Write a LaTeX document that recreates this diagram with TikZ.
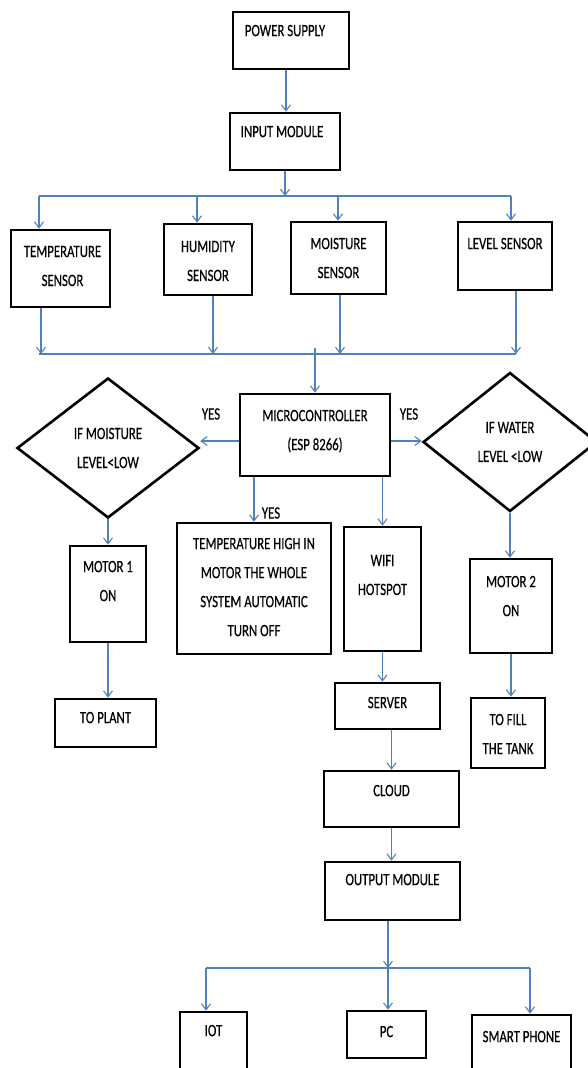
\documentclass[tikz,border=0pt]{standalone}
\usepackage{fontspec}
\setmainfont{Carlito}[FakeStretch=0.74, FakeBold=0.4]
\usepackage{xcolor}
\usepackage{tikz}
\usetikzlibrary{shapes.geometric, arrows.meta}
\definecolor{linkblue}{RGB}{79,129,189}

\begin{document}
\begin{tikzpicture}[
  x=1pt, y=-1pt,
  box/.style={draw, line width=2.6pt, inner sep=0pt},
  decision/.style={draw, diamond, line width=2.6pt, inner sep=0pt, align=center, font=\fontsize{17.3}{29}\selectfont},
  txt/.style={anchor=north, align=center, inner sep=0pt, font=\fontsize{17.3}{29}\selectfont},
  yes/.style={inner sep=0pt, font=\fontsize{17.3}{29}\selectfont},
  flow/.style={draw=linkblue, line width=1.1pt, -{Straight Barb[length=6pt, width=9pt]}},
  wire/.style={draw=linkblue, line width=1.1pt}
]
\path[use as bounding box, fill=white] (0,0) rectangle (588,1068);

\node[box, minimum width=116pt, minimum height=57pt] (power) at (291,40.5) {};
\node[box, minimum width=110pt, minimum height=57pt] (input) at (285,141.5) {};
\node[box, minimum width=99pt, minimum height=77pt] (temp) at (60.5,268.5) {};
\node[box, minimum width=88pt, minimum height=71pt] (humid) at (208,259.5) {};
\node[box, minimum width=95pt, minimum height=72pt] (moist) at (338.5,258) {};
\node[box, minimum width=94pt, minimum height=68pt] (level) at (505,256) {};
\node[box, minimum width=150pt, minimum height=82pt] (micro) at (315,435) {};
\node[decision, minimum width=182pt, minimum height=140pt] (ldia) at (108,448) {IF MOISTURE\\LEVEL<LOW};
\node[decision, minimum width=174pt, minimum height=139pt] (rdia) at (510,442) {IF WATER\\LEVEL <LOW};
\node[box, minimum width=154pt, minimum height=131pt] (hot) at (254,588.5) {};
\node[box, minimum width=77pt, minimum height=124pt] (wifi) at (382.5,589) {};
\node[box, minimum width=76pt, minimum height=96pt] (motor1) at (108,594) {};
\node[box, minimum width=101pt, minimum height=48pt] (plant) at (105.5,723) {};
\node[box, minimum width=82pt, minimum height=94pt] (motor2) at (511,606) {};
\node[box, minimum width=74pt, minimum height=70pt] (tank) at (508,733) {};
\node[box, minimum width=105pt, minimum height=46pt] (server) at (387.5,706) {};
\node[box, minimum width=135pt, minimum height=56pt] (cloud) at (391.5,799) {};
\node[box, minimum width=135pt, minimum height=58pt] (output) at (392.5,891) {};
\node[box, minimum width=67pt, minimum height=58pt] (iot) at (213.5,1041) {};
\node[box, minimum width=79pt, minimum height=47pt] (pc) at (386.5,1034.5) {};
\node[box, minimum width=99pt, minimum height=60pt] (phone) at (521.5,1045) {};

\node[txt] (powertext) at ([xshift=-6pt, yshift=-14pt]power.north) {POWER SUPPLY};
\node[txt] (inputtext) at ([xshift=-3pt, yshift=-14pt]input.north) {INPUT MODULE};
\node[txt] (temptext) at ([xshift=2pt, yshift=-17pt]temp.north) {TEMPERATURE\\SENSOR};
\node[txt] (humidtext) at ([yshift=-18pt]humid.north) {HUMIDITY\\SENSOR};
\node[txt] (moisttext) at ([yshift=-17pt]moist.north) {MOISTURE\\SENSOR};
\node[txt] (leveltext) at ([yshift=-17pt]level.north) {LEVEL SENSOR};
\node[txt] (microtext) at ([yshift=-17pt]micro.north) {MICROCONTROLLER\\(ESP 8266)};
\node[txt] (hottext) at ([yshift=-16pt]hot.north) {TEMPERATURE HIGH IN\\MOTOR THE WHOLE\\SYSTEM AUTOMATIC\\TURN OFF};
\node[txt] (wifitext) at ([yshift=-29pt]wifi.north) {WIFI\\HOTSPOT};
\node[txt] (motor1text) at ([yshift=-16pt]motor1.north) {MOTOR 1\\ON};
\node[txt] (planttext) at ([yshift=-14pt]plant.north) {TO PLANT};
\node[txt] (motor2text) at ([yshift=-18pt]motor2.north) {MOTOR 2\\ON};
\node[txt] (tanktext) at ([yshift=-17pt]tank.north) {TO FILL\\THE TANK};
\node[txt] (servertext) at ([yshift=-15pt]server.north) {SERVER};
\node[txt] (cloudtext) at ([yshift=-15pt]cloud.north) {CLOUD};
\node[txt] (outputtext) at ([yshift=-13pt]output.north) {OUTPUT MODULE};
\node[txt] (iottext) at ([yshift=-14pt]iot.north) {IOT};
\node[txt] (pctext) at ([yshift=-16pt]pc.north) {PC};
\node[txt] (phonetext) at ([yshift=-17pt]phone.north) {SMART PHONE};

\node[yes] (yesleft) at (211,414) {YES};
\node[yes] (yesright) at (409,414) {YES};
\node[yes] (yesdown) at (271,513) {YES};

\coordinate (b1) at (39,196);
\coordinate (b2) at (197,196);
\coordinate (b3) at (338,196);
\coordinate (b4) at (511,196);
\coordinate (c1) at (41,354);
\coordinate (c2) at (213,354);
\coordinate (c3) at (340,354);
\coordinate (c4) at (516,354);
\coordinate (c0) at (315,348);
\coordinate (d1) at (206,968);
\coordinate (d2) at (388,968);
\coordinate (d3) at (530,968);

\draw[flow] ([xshift=-5pt]power.south) -- ([xshift=-5pt]power.south |- input.north);
\draw[flow] (input.south) -- (input.south |- b1);
\draw[wire] (b1) -- (b4);
\foreach \b/\n in {b1/temp, b2/humid, b3/moist, b4/level}
  \draw[flow] (\b) -- (\b |- \n.north);
\foreach \c/\n in {c1/temp, c2/humid, c3/moist, c4/level}
  \draw[flow] (\c |- \n.south) -- (\c);
\draw[wire] ([xshift=-2pt]c1) -- (c4);
\draw[flow] (c0) -- (micro.north);
\draw[flow] ([yshift=-6pt]micro.west) -- ([yshift=-6pt]micro.west -| ldia.east);
\draw[flow] ([yshift=-6pt]micro.east) -- ([yshift=-6pt]micro.east -| rdia.west);
\draw[flow] (micro.south -| hot.north) -- (hot.north);
\draw[flow] (micro.south -| wifi.north) -- (wifi.north);
\draw[flow] (ldia.south) -- (ldia.south |- motor1.north);
\draw[flow] (motor1.south) -- (motor1.south |- plant.north);
\draw[flow] (rdia.south) -- (rdia.south |- motor2.north);
\draw[flow] (motor2.south) -- (motor2.south |- tank.north);
\draw[flow] (wifi.south) -- (wifi.south |- server.north);
\draw[flow] (server.south -| cloud.north) -- (cloud.north);
\draw[flow] (cloud.south) -- (cloud.south |- output.north);
\draw[flow] (output.south -| d2) -- (d2);
\draw[wire] (d1) -- (d3);
\foreach \d/\n in {d1/iot, d2/pc, d3/phone}
  \draw[flow] (\d) -- (\d |- \n.north);
\end{tikzpicture}
\end{document}
